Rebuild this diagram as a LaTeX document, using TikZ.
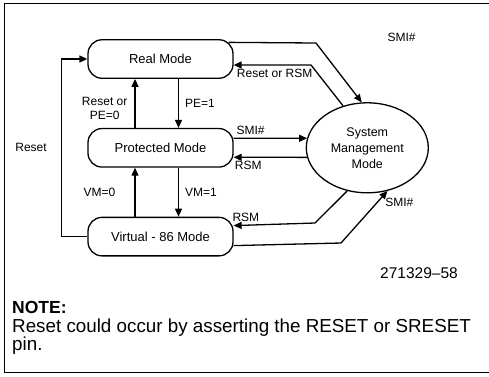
\documentclass[tikz,border=0pt]{standalone}
\usepackage{fontspec}
\setmainfont{Liberation Sans}
\usepackage{tikz}
\usetikzlibrary{arrows.meta,positioning,shapes.geometric}

\begin{document}
\begin{tikzpicture}[x=1pt,y=-1pt,
  node distance=49pt,
  mode/.style={draw,line width=1.3pt,rounded corners=14pt,minimum width=145pt,minimum height=38.5pt,inner sep=0pt,font=\fontsize{13}{15}\selectfont},
  smm/.style={draw,ellipse,line width=1.3pt,minimum width=122pt,minimum height=90pt,inner sep=0pt,align=center,font=\fontsize{12.5}{16}\selectfont},
  arr/.style={-{Triangle[length=8pt,width=7pt]},line width=1.3pt},
  lbl/.style={font=\fontsize{12}{14}\selectfont,inner sep=1pt}
]
\useasboundingbox (0,0) rectangle (489,376);
\draw[line width=1pt] (489,3) -- (4,3) -- (4,372) -- (489,372);

\node[mode] (real) at (160.5,59) {Real Mode};
\node[mode,below=of real] (prot) {Protected Mode};
\node[mode,below=of prot] (v86) {Virtual - 86 Mode};
\node[smm,right=72pt of prot] (smm) {System\\Management\\Mode};

% mode changes
\draw[arr] ([xshift=-25.5pt]prot.north) -- ([xshift=-25.5pt]real.south) node[pos=0.4,left=6pt,lbl,align=center]{Reset or\\PE=0};
\draw[arr] ([xshift=18pt]real.south) -- ([xshift=18pt]prot.north) node[midway,right=5pt,lbl]{PE=1};
\draw[arr] ([xshift=-25.5pt]v86.north) -- ([xshift=-25.5pt]prot.south) node[midway,left=18pt,lbl]{VM=0};
\draw[arr] ([xshift=18pt]prot.south) -- ([xshift=18pt]v86.north) node[midway,right=5pt,lbl]{VM=1};
\draw[arr] (v86.west) -- ++(-26,0) |- (real.west) node[pos=0.25,left=13pt,lbl]{Reset};

% SMM
\draw[arr] ([xshift=-5pt,yshift=-3.25pt]real.north east) -- (316,43) -- (smm.97) node[pos=0,right=70pt,yshift=6pt,lbl]{SMI\#};
\draw[arr] (smm.120) -- (311,65) -- ([yshift=-6pt]real.east) node[pos=0.47,below=2pt,lbl]{Reset or RSM};
\draw[arr] ([yshift=9.5pt]prot.east) -- (smm.171) node[pos=0.23,above=2pt,lbl]{SMI\#};
\draw[arr] (smm.189) -- ([yshift=-9.5pt]prot.east) node[pos=0.8,below=2pt,lbl]{RSM};
\draw[arr] (smm.245) -- (315,223) -- ([yshift=11pt]v86.east) node[pos=0.85,above=2pt,lbl]{RSM};
\draw[arr] ([yshift=-9pt]v86.east) -- (341,243) -- (smm.295) node[pos=0.79,right=6pt,lbl]{SMI\#};

% note
\node[anchor=base east,inner sep=0pt,font=\fontsize{15.5}{18}\selectfont] (fignum) at (458,278) {271329--58};
\node[anchor=base west,inner sep=0pt,font=\bfseries\fontsize{17.5}{20}\selectfont] (note) at (12,313) {NOTE:};
\node[anchor=north west,inner sep=0pt,align=left,font=\fontsize{18.8}{18}\selectfont] (notetxt) at (12,319) {Reset could occur by asserting the RESET or SRESET\\pin.};
\end{tikzpicture}
\end{document}
